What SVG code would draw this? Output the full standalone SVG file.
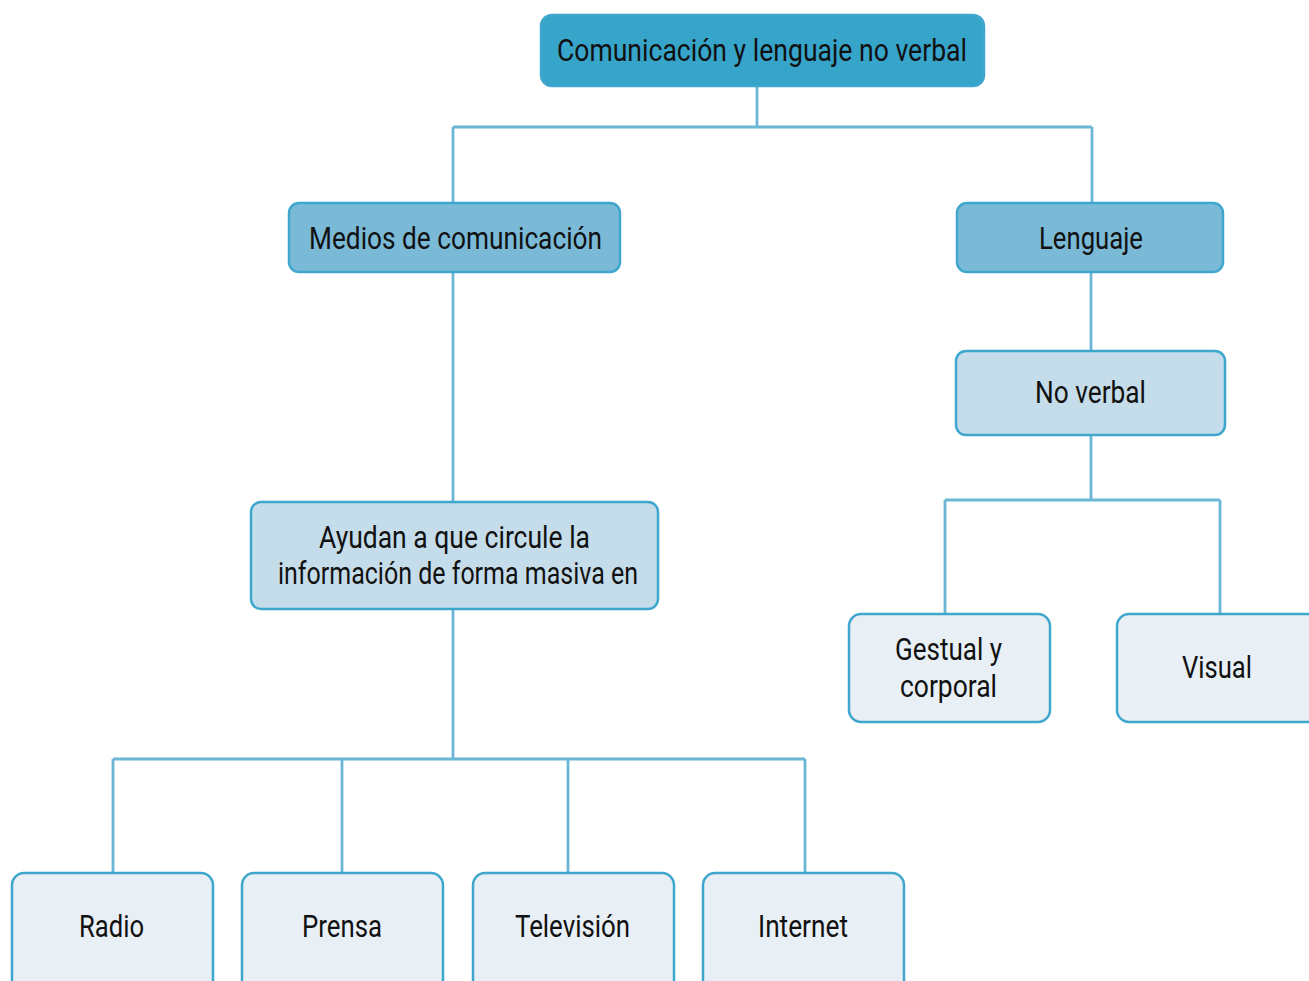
<svg xmlns="http://www.w3.org/2000/svg" width="1309" height="981" viewBox="0 0 1309 981">
<style>
.n{stroke:#3FA7CD;stroke-width:2.5}
.l0{fill:#37A4CA}
.l1{fill:#7BBAD7}
.l2{fill:#C5DDEA}
.l3{fill:#E8EFF5}
text{font-family:Roboto,"Liberation Sans",sans-serif;font-size:31px;fill:#111;text-anchor:middle}
.c{fill:none;stroke:#6CB6D5;stroke-width:2.8}
</style>
<rect width="1309" height="981" fill="#fff"/>
<g id="connectors" class="c">
<path d="M757 86V127M453 127H1092M453 127V203M1092 127V203"/>
<path d="M1091 272V351"/>
<path d="M1091 435V500M945 500H1220M945 500V614M1220 500V614"/>
<path d="M453 272V502"/>
<path d="M453 609V759M113 759H805M113 759V873M342 759V873M568 759V873M805 759V873"/>
</g>
<g id="root"><rect class="n l0" x="541" y="15" width="443" height="71" rx="11"/><text x="762" y="61" textLength="410" lengthAdjust="spacingAndGlyphs">Comunicación y lenguaje no verbal</text></g>
<g id="medios"><rect class="n l1" x="289" y="203" width="331" height="69" rx="10"/><text x="455.5" y="249" textLength="293" lengthAdjust="spacingAndGlyphs">Medios de comunicación</text></g>
<g id="lenguaje"><rect class="n l1" x="957" y="203" width="266" height="69" rx="10"/><text x="1091" y="249" textLength="104" lengthAdjust="spacingAndGlyphs">Lenguaje</text></g>
<g id="noverbal"><rect class="n l2" x="956" y="351" width="269" height="84" rx="10"/><text x="1090.5" y="403" textLength="111" lengthAdjust="spacingAndGlyphs">No verbal</text></g>
<g id="ayudan"><rect class="n l2" x="251" y="502" width="407" height="107" rx="10"/><text x="454.5" y="548" textLength="271" lengthAdjust="spacingAndGlyphs">Ayudan a que circule la</text><text x="458" y="584" textLength="360" lengthAdjust="spacingAndGlyphs">información de forma masiva en</text></g>
<g id="gestual"><rect class="n l3" x="849" y="614" width="201" height="108" rx="12"/><text x="948.5" y="660" textLength="107" lengthAdjust="spacingAndGlyphs">Gestual y</text><text x="948.5" y="697" textLength="97" lengthAdjust="spacingAndGlyphs">corporal</text></g>
<g id="visual"><rect class="n l3" x="1117" y="614" width="210" height="108" rx="12"/><text x="1217" y="678" textLength="70" lengthAdjust="spacingAndGlyphs">Visual</text></g>
<g id="radio"><rect class="n l3" x="12" y="873" width="201" height="130" rx="12"/><text x="111.5" y="937" textLength="65" lengthAdjust="spacingAndGlyphs">Radio</text></g>
<g id="prensa"><rect class="n l3" x="242" y="873" width="201" height="130" rx="12"/><text x="342" y="937" textLength="80" lengthAdjust="spacingAndGlyphs">Prensa</text></g>
<g id="television"><rect class="n l3" x="473" y="873" width="201" height="130" rx="12"/><text x="572.5" y="937" textLength="115" lengthAdjust="spacingAndGlyphs">Televisión</text></g>
<g id="internet"><rect class="n l3" x="703" y="873" width="201" height="130" rx="12"/><text x="803" y="937" textLength="90" lengthAdjust="spacingAndGlyphs">Internet</text></g>
</svg>
